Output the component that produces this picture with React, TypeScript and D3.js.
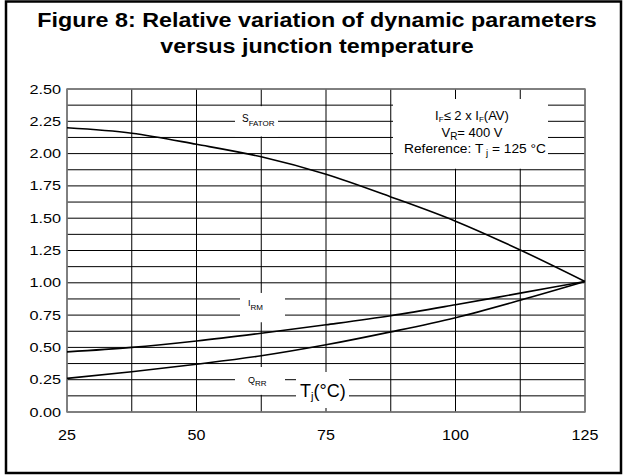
import * as d3 from 'd3';
import React from 'react';

const temps = [25, 37.5, 50, 62.5, 75, 87.5, 100, 112.5, 125];
const sFator = [2.2, 2.158, 2.072, 1.975, 1.84, 1.665, 1.477, 1.254, 1.01];
const iRm = [0.465, 0.5, 0.55, 0.61, 0.675, 0.745, 0.83, 0.92, 1.01];
const qRr = [0.26, 0.312, 0.37, 0.435, 0.52, 0.62, 0.73, 0.865, 1.01];

const yTicks = [0, 0.25, 0.5, 0.75, 1, 1.25, 1.5, 1.75, 2, 2.25, 2.5];
const xTicks = [25, 50, 75, 100, 125];
const yGrid = d3.range(0, 2.5001, 0.125);
const xGrid = d3.range(25, 125.001, 12.5);

const W = 626;
const H = 475;
const font = 'Arial, "Liberation Sans", sans-serif';

export default function App() {
  const x = d3.scaleLinear().domain([25, 125]).range([67, 585]);
  const y = d3.scaleLinear().domain([0, 2.5]).range([412, 89]);

  const line = d3
    .line<number>()
    .x((_, i) => x(temps[i]))
    .y((d) => y(d))
    .curve(d3.curveMonotoneX);

  const series = [sFator, iRm, qRr];

  // white patches behind the in-plot labels
  const patches = [
    {x0: 235, x1: 278, y0: y(2.375) + 1, y1: y(2.125) - 1},
    {x0: 393, x1: 548, y0: 99, y1: y(1.875) - 1},
    {x0: 240, x1: 285, y0: y(0.875) - 6, y1: y(0.625) - 9},
    {x0: 235, x1: 285, y0: 367, y1: y(0.125) - 1},
    {x0: 296, x1: 349, y0: 372, y1: 408},
  ];

  return (
    <svg width={W} height={H} style={{position: 'absolute', left: 0, top: 0, background: '#fff'}}
         fontFamily={font}>
      <rect x={6} y={1.5} width={615} height={471.5} fill="#fff" stroke="#000" strokeWidth={2.5}/>

      <g transform="translate(317,27) scale(1.11,1)">
        <text textAnchor="middle" fontSize={21} fontWeight="bold">
          Figure 8: Relative variation of dynamic parameters
        </text>
      </g>
      <g transform="translate(317,53) scale(1.11,1)">
        <text textAnchor="middle" fontSize={21} fontWeight="bold">
          versus junction temperature
        </text>
      </g>

      {yGrid.map((v) => (
        <line key={'h' + v} x1={x(25)} x2={x(125)} y1={y(v)} y2={y(v)} stroke="#000" strokeWidth={1}/>
      ))}
      {xGrid.map((v) => (
        <line key={'v' + v} x1={x(v)} x2={x(v)} y1={y(0)} y2={y(2.5)} stroke="#000" strokeWidth={1}/>
      ))}
      <rect x={x(25)} y={y(2.5)} width={x(125) - x(25)} height={y(0) - y(2.5)} fill="none"
            stroke="#808080" strokeWidth={1.5}/>

      {patches.map((p, i) => (
        <rect key={'p' + i} x={p.x0} y={p.y0} width={p.x1 - p.x0} height={p.y1 - p.y0} fill="#fff"/>
      ))}

      {series.map((s, i) => (
        <path key={'s' + i} d={line(s) || ''} fill="none" stroke="#000" strokeWidth={1.6}/>
      ))}

      {yTicks.map((v) => (
        <g key={'yt' + v} transform={`translate(61,${y(v) + 4.5}) scale(1.25,1)`}>
          <text textAnchor="end" fontSize={13}>{v.toFixed(2)}</text>
        </g>
      ))}
      {xTicks.map((v) => (
        <g key={'xt' + v} transform={`translate(${x(v)},440) scale(1.15,1)`}>
          <text textAnchor="middle" fontSize={14}>{v}</text>
        </g>
      ))}

      <text x={242} y={122} fontSize={10}>
        S<tspan fontSize={8} dy={4}>FATOR</tspan>
      </text>
      <text x={248} y={306} fontSize={9}>
        I<tspan fontSize={8} dy={4}>RM</tspan>
      </text>
      <text x={248} y={383} fontSize={9}>
        Q<tspan fontSize={8} dy={3}>RR</tspan>
      </text>
      <text x={300} y={397} fontSize={18}>
        T<tspan fontSize={11} dy={3}>j</tspan><tspan dy={-3}>(°C)</tspan>
      </text>

      <text x={472} y={120} textAnchor="middle" fontSize={13}>
        I<tspan fontSize={8} dy={2}>F</tspan><tspan dy={-2}>≤ 2 x I</tspan>
        <tspan fontSize={8} dy={2}>F</tspan><tspan dy={-2}>(AV)</tspan>
      </text>
      <text x={472} y={137} textAnchor="middle" fontSize={13}>
        V<tspan fontSize={10} dy={3}>R</tspan><tspan dy={-3}>= 400 V</tspan>
      </text>
      <g transform="translate(475,153) scale(1.06,1)">
        <text textAnchor="middle" fontSize={13}>
          Reference: T<tspan fontSize={9} dy={3}> j</tspan><tspan dy={-3}> = 125 °C</tspan>
        </text>
      </g>
    </svg>
  );
}
